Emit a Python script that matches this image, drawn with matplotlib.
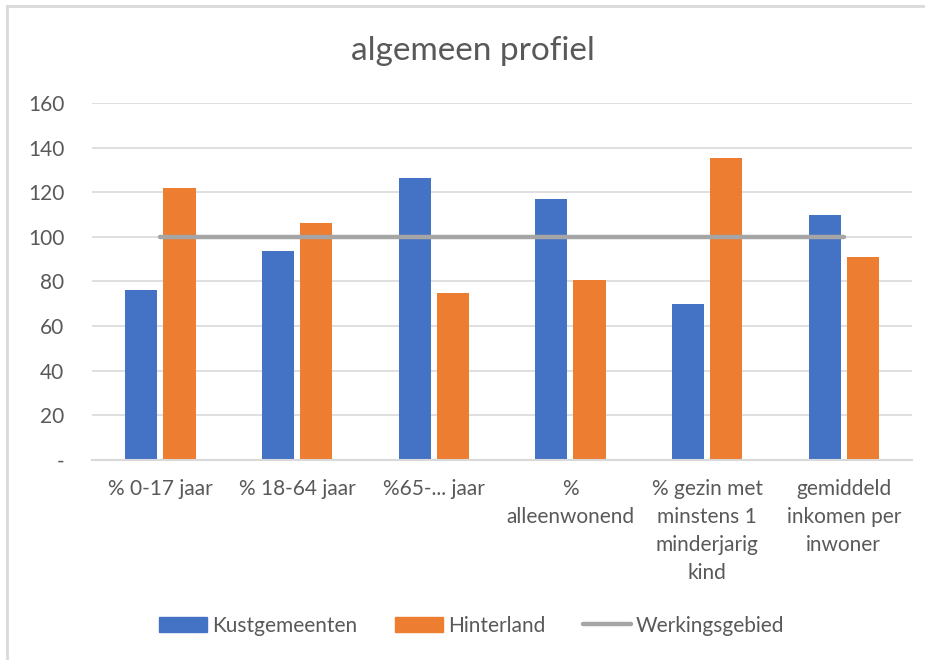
import numpy as np
import matplotlib.pyplot as plt
from matplotlib.lines import Line2D
from matplotlib.patches import Patch

categories = ['% 0-17 jaar', '% 18-64 jaar', '%65-... jaar', '%\nalleenwonend',
              '% gezin met\nminstens 1\nminderjarig\nkind', 'gemiddeld\ninkomen per\ninwoner']
kust = [76, 93.5, 126.5, 117, 70, 110]
hinterland = [122, 106, 75, 80.5, 135.5, 91]
werking = [100, 100, 100, 100, 100, 100]
yticks = [0, 20, 40, 60, 80, 100, 120, 140, 160]
ytick_labels = ['-', '20', '40', '60', '80', '100', '120', '140', '160']

text_color = '#595959'
plt.rcParams['font.family'] = ['Lato', 'DejaVu Sans']

fig = plt.figure(figsize=(9.25, 6.6), dpi=100)
ax = fig.add_axes([0.0995, 0.303, 0.8865, 0.541])

x = np.arange(len(categories))
w = 0.235
ax.bar(x - 0.14, kust, w, color='#4472C4', zorder=2)
ax.bar(x + 0.14, hinterland, w, color='#ED7D31', zorder=2)
ax.plot(x, werking, color='#A5A5A5', lw=3.2, solid_capstyle='round', zorder=3)

ax.set_xlim(-0.5, len(categories) - 0.5)
ax.set_ylim(0, 160)
ax.set_yticks(yticks)
ax.set_yticklabels(ytick_labels)
ax.set_xticks(x)
ax.set_xticklabels(categories, linespacing=1.5, va='top')
ax.tick_params(axis='both', length=0, labelsize=15, labelcolor=text_color)
ax.tick_params(axis='y', pad=20)
ax.tick_params(axis='x', pad=14)

ax.grid(axis='y', color='#D9D9D9', lw=1.2, zorder=0)
ax.set_axisbelow(True)
for s in ['top', 'right', 'left']:
    ax.spines[s].set_visible(False)
ax.spines['bottom'].set_color('#D9D9D9')
ax.spines['bottom'].set_linewidth(1.5)

fig.text(0.511, 0.922, 'algemeen profiel', ha='center', va='center', fontsize=24, color=text_color)

handles = [Patch(color='#4472C4'), Patch(color='#ED7D31'),
           Line2D([0], [0], color='#A5A5A5', lw=3.2, solid_capstyle='round')]
fig.legend(handles, ['Kustgemeenten', 'Hinterland', 'Werkingsgebied'], loc='center',
           bbox_to_anchor=(0.51, 0.052), ncol=3, frameon=False, fontsize=15,
           labelcolor=text_color, handlelength=2.3, handleheight=0.7,
           handletextpad=0.25, columnspacing=1.8)

# light frame on the left and top of the screenshot
fig.add_artist(Line2D([0.0075, 0.0075], [0, 0.991], color='#D9D9D9', lw=2, transform=fig.transFigure))
fig.add_artist(Line2D([0.0075, 1.0], [0.991, 0.991], color='#D9D9D9', lw=2, transform=fig.transFigure))

fig.savefig('out.png', dpi=100)
